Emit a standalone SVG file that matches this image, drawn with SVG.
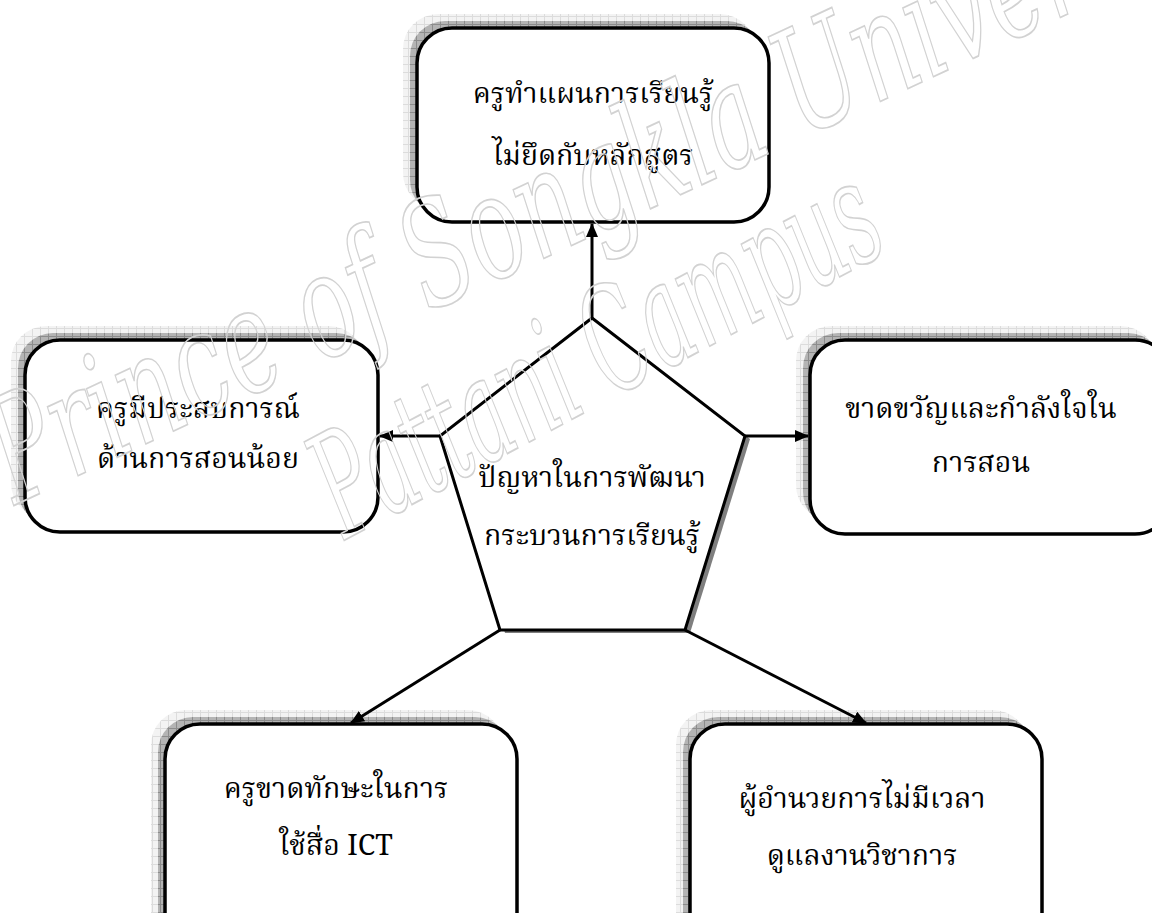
<svg xmlns="http://www.w3.org/2000/svg" width="1152" height="913" viewBox="0 0 1152 913">
<style>
.bg{fill:#ffffff}
.sh1{fill:url(#gridLight)}
.sh2{fill:url(#gridDark)}
.box{fill:#ffffff;stroke:#000000;stroke-width:3.5}
.pent{fill:#ffffff;stroke:#000000;stroke-width:3}
.pentsh{fill:#7f7f7f}
.t{font-family:"Norasi","Noto Serif Thai","Noto Sans Thai","Garuda","Loma","Liberation Serif",serif;font-size:28.5px;fill:#000000;text-anchor:middle}
.wm{font-family:"DejaVu Serif","Liberation Serif",serif;font-style:italic;font-size:100px;fill:none;stroke:#d2d2d2;stroke-width:1.2}
.conn{stroke:#000000;stroke-width:3;fill:none;marker-end:url(#arr)}
</style>
<defs>
<marker id="arr" viewBox="0 0 14 12" refX="13" refY="6" markerWidth="14" markerHeight="12" markerUnits="userSpaceOnUse" orient="auto">
<path d="M0,0 L14,6 L0,12 Z" fill="#000000"/>
</marker>
<pattern id="gridLight" width="8" height="8" patternUnits="userSpaceOnUse">
<rect width="8" height="8" fill="#f3f3f3"/>
<path d="M0,0.5 H8 M0.5,0 V8" stroke="#dcdcdc" stroke-width="1"/>
</pattern>
<pattern id="gridDark" width="8" height="8" patternUnits="userSpaceOnUse">
<rect width="8" height="8" fill="#b4b4b4"/>
<path d="M0,0.5 H8 M0.5,0 V8" stroke="#8c8c8c" stroke-width="1"/>
</pattern>
</defs>
<rect class="bg" x="0" y="0" width="1152" height="913"/>
<g id="node-top">
<rect class="sh1" x="403" y="14" width="352" height="194" rx="35"/>
<rect class="sh2" x="410" y="21" width="352" height="194" rx="35"/>
<rect class="box" x="417" y="28" width="352" height="194" rx="35"/>
<text class="t" x="593" y="103">ครูทำแผนการเรียนรู้</text>
<text class="t" x="593" y="165">ไม่ยึดกับหลักสูตร</text>
</g>
<g id="node-left">
<rect class="sh1" x="11" y="326" width="353" height="192" rx="35"/>
<rect class="sh2" x="18" y="333" width="353" height="192" rx="35"/>
<rect class="box" x="25" y="340" width="353" height="192" rx="35"/>
<text class="t" x="198" y="418">ครูมีประสบการณ์</text>
<text class="t" x="198" y="468">ด้านการสอนน้อย</text>
</g>
<g id="node-right">
<rect class="sh1" x="796" y="326" width="360" height="194" rx="35"/>
<rect class="sh2" x="803" y="333" width="360" height="194" rx="35"/>
<rect class="box" x="810" y="340" width="360" height="194" rx="35"/>
<text class="t" x="981" y="418">ขาดขวัญและกำลังใจใน</text>
<text class="t" x="981" y="472">การสอน</text>
</g>
<g id="node-center">
<polygon class="pentsh" points="597,321 750,439 690,633 505,633 445,439"/>
<polygon class="pent" points="592,318 745,436 685,630 500,630 440,436"/>
<text class="t" x="592" y="487">ปัญหาในการพัฒนา</text>
<text class="t" x="592" y="545">กระบวนการเรียนรู้</text>
</g>
<g id="node-bottom-left">
<rect class="sh1" x="151" y="710" width="352" height="240" rx="35"/>
<rect class="sh2" x="158" y="717" width="352" height="240" rx="35"/>
<rect class="box" x="165" y="724" width="352" height="240" rx="35"/>
<text class="t" x="336" y="798">ครูขาดทักษะในการ</text>
<text class="t" x="336" y="855">ใช้สื่อ ICT</text>
</g>
<g id="node-bottom-right">
<rect class="sh1" x="676" y="710" width="352" height="240" rx="35"/>
<rect class="sh2" x="683" y="717" width="352" height="240" rx="35"/>
<rect class="box" x="690" y="724" width="352" height="240" rx="35"/>
<text class="t" x="862" y="808">ผู้อำนวยการไม่มีเวลา</text>
<text class="t" x="862" y="865">ดูแลงานวิชาการ</text>
</g>
<g id="connectors">
<line class="conn" x1="592" y1="318" x2="592" y2="224"/>
<line class="conn" x1="440" y1="436" x2="380" y2="436"/>
<line class="conn" x1="745" y1="436" x2="808" y2="436"/>
<line class="conn" x1="500" y1="630" x2="351" y2="723"/>
<line class="conn" x1="685" y1="630" x2="866" y2="723"/>
</g>
<g id="watermark">
<text class="wm" x="0" y="0" textLength="1360" lengthAdjust="spacingAndGlyphs" transform="translate(15,505) rotate(-25) scale(1,1.45)">Prince of Songkla University</text>
<text class="wm" x="0" y="0" textLength="620" lengthAdjust="spacingAndGlyphs" transform="translate(345,540) rotate(-28) scale(1,1.45)">Pattani Campus</text>
</g>
</svg>
